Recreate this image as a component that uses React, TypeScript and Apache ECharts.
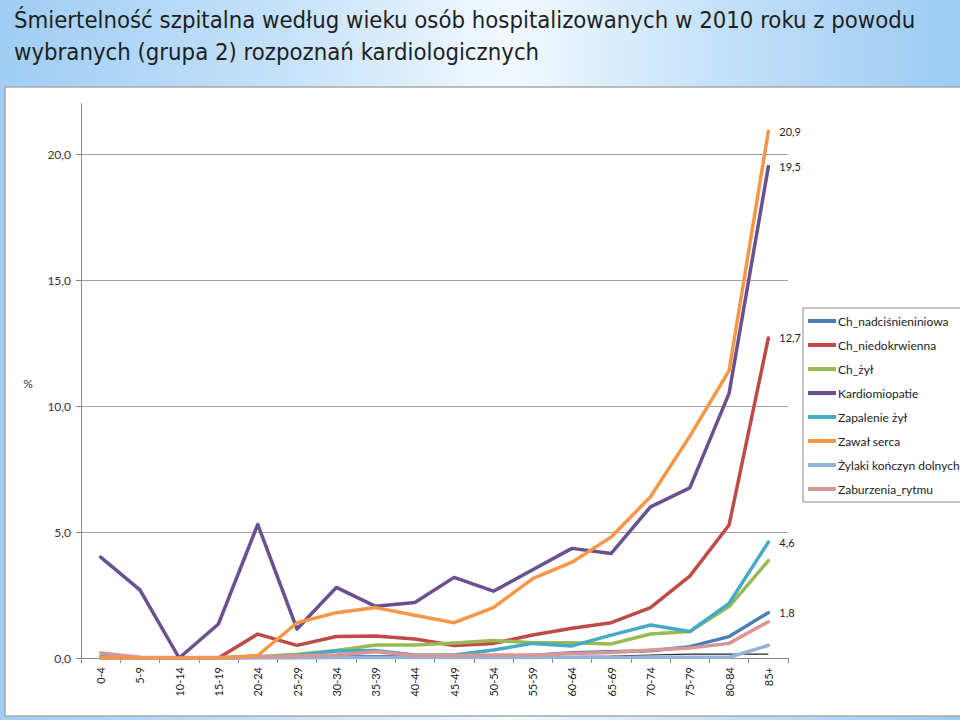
import React, { useEffect, useRef } from "react";
import * as echarts from "echarts";

const categories = ["0-4", "5-9", "10-14", "15-19", "20-24", "25-29", "30-34", "35-39", "40-44", "45-49", "50-54", "55-59", "60-64", "65-69", "70-74", "75-79", "80-84", "85+"];

const chNadcisnieniowa = [0.02, 0, 0, 0, 0.03, 0.03, 0.05, 0.05, 0.05, 0.06, 0.08, 0.1, 0.21, 0.25, 0.29, 0.45, 0.85, 1.8];
const chNiedokrwienna = [0, 0, 0, 0, 0.95, 0.5, 0.85, 0.87, 0.75, 0.5, 0.58, 0.91, 1.18, 1.4, 2.0, 3.25, 5.28, 12.7];
const chZyl = [0, 0, 0, 0, 0.05, 0.15, 0.3, 0.52, 0.52, 0.6, 0.69, 0.61, 0.61, 0.56, 0.95, 1.05, 2.04, 3.86];
const kardiomiopatie = [4.0, 2.7, 0, 1.35, 5.3, 1.15, 2.8, 2.05, 2.2, 3.2, 2.65, 3.5, 4.35, 4.15, 6.0, 6.75, 10.5, 19.5];
const zapalenieZyl = [0.05, 0, 0, 0, 0.02, 0.1, 0.28, 0.3, 0.12, 0.12, 0.32, 0.58, 0.48, 0.91, 1.31, 1.05, 2.17, 4.6];
const zawalSerca = [0, 0, 0, 0, 0.1, 1.4, 1.8, 2.0, 1.7, 1.4, 2.0, 3.15, 3.8, 4.8, 6.4, 8.8, 11.4, 20.9];
const zylaki = [0, 0, 0, 0, 0, 0, 0.02, 0.02, 0.02, 0.02, 0.02, 0.02, 0.03, 0.03, 0.03, 0.03, 0.03, 0.5];
const zaburzeniaRytmu = [0.2, 0.03, 0.02, 0.02, 0.05, 0.08, 0.12, 0.25, 0.1, 0.1, 0.12, 0.12, 0.18, 0.22, 0.32, 0.4, 0.58, 1.44];
const bazowa = [0, 0, 0, 0, 0.01, 0.01, 0.02, 0.02, 0.03, 0.03, 0.04, 0.05, 0.06, 0.08, 0.12, 0.15, 0.15, 0.15];

const seriesNames = ["Ch_nadciśnieniniowa", "Ch_niedokrwienna", "Ch_żył", "Kardiomiopatie", "Zapalenie żył", "Zawał serca", "Żylaki kończyn dolnych", "Zaburzenia_rytmu"];
const seriesValues = [chNadcisnieniowa, chNiedokrwienna, chZyl, kardiomiopatie, zapalenieZyl, zawalSerca, zylaki, zaburzeniaRytmu];
const seriesColors = ["#4a7ebb", "#be4b48", "#98b954", "#6a5091", "#46aac5", "#f79646", "#95b3d7", "#d99694"];
const endLabelled = [true, true, false, true, true, true, false, false];

const yTicks = [0, 5, 10, 15, 20];

const titleLines = [
  "Śmiertelność szpitalna według wieku osób hospitalizowanych w 2010 roku z powodu",
  "wybranych (grupa 2) rozpoznań kardiologicznych",
];

const fmt = (v: number) => v.toFixed(1).replace(".", ",");
const labelFont = "Lato, 'Open Sans', sans-serif";

export default function App() {
  const ref = useRef<HTMLDivElement>(null);
  useEffect(() => {
    document.body.style.margin = "0";
    const chart = echarts.init(ref.current!, null, { renderer: "svg" });
    const series: any[] = seriesNames.map((name, si) => ({
      name,
      type: "line",
      showSymbol: false,
      symbol: "none",
      z: 3 + (si === 3 || si === 5 ? 1 : 0),
      lineStyle: { width: 3.5, color: seriesColors[si], cap: "round", join: "round" },
      itemStyle: { color: seriesColors[si] },
      endLabel: {
        show: endLabelled[si],
        distance: 11,
        formatter: (p: any) => fmt(p.value as number),
        color: "#222",
        fontSize: 11,
        fontFamily: labelFont,
      },
      data: seriesValues[si],
    }));
    series.push({
      name: "bazowa",
      type: "line",
      showSymbol: false,
      symbol: "none",
      z: 2,
      lineStyle: { width: 1.2, color: "#222" },
      data: bazowa,
    });

    chart.setOption({
      animation: false,
      backgroundColor: {
        type: "linear",
        x: 0,
        y: 0,
        x2: 1,
        y2: 0,
        colorStops: [
          { offset: 0, color: "#9fcdf4" },
          { offset: 0.3, color: "#c6e2fa" },
          { offset: 0.53, color: "#f2f9ff" },
          { offset: 0.75, color: "#c4e1f9" },
          { offset: 1, color: "#9ccbf3" },
        ],
      },
      graphic: [
        {
          type: "rect",
          z: -10,
          shape: { x: 5, y: 87, width: 960, height: 629 },
          style: { fill: "#ffffff", stroke: "#a8a8a8", lineWidth: 1.5 },
        },
        {
          type: "text",
          x: 14,
          y: 4,
          style: {
            text: titleLines.join("\n"),
            font: "23.7px 'DejaVu Sans Condensed', 'DejaVu Sans', sans-serif",
            fill: "#1e1e1e",
            lineHeight: 32,
          },
        },
        {
          type: "text",
          x: 28,
          y: 383,
          style: {
            text: "%",
            font: "12px " + labelFont,
            fill: "#333",
            align: "center",
            verticalAlign: "middle",
          },
        },
      ],
      legend: {
        data: seriesNames,
        orient: "vertical",
        left: 803,
        top: 308,
        z: 1,
        icon: "rect",
        itemWidth: 28,
        itemHeight: 4,
        itemGap: 10,
        padding: [6, 12, 6, 5],
        borderColor: "#8a8a8a",
        borderWidth: 1,
        backgroundColor: "#fff",
        textStyle: { fontSize: 12, color: "#222", fontFamily: labelFont, lineHeight: 14, padding: [0, 0, 0, -3] },
      },
      grid: { left: 81, right: 172, top: 103.6, bottom: 62, containLabel: false },
      xAxis: {
        type: "category",
        data: categories,
        boundaryGap: true,
        axisLine: { lineStyle: { color: "#868686", width: 1 } },
        axisTick: { show: true, length: 5, lineStyle: { color: "#868686" } },
        axisLabel: {
          rotate: 90,
          interval: 0,
          margin: 9,
          fontSize: 11,
          color: "#222",
          fontFamily: labelFont,
        },
      },
      yAxis: {
        type: "value",
        min: 0,
        max: 22,
        interval: 5,
        axisLine: { show: true, lineStyle: { color: "#868686", width: 1 } },
        axisTick: { show: true, length: 5, lineStyle: { color: "#868686" }, customValues: yTicks },
        axisLabel: {
          customValues: yTicks,
          formatter: (v: number) => fmt(v),
          fontSize: 12,
          color: "#333",
          fontFamily: labelFont,
          margin: 10,
        },
        splitLine: { show: true, lineStyle: { color: "#a0a0a0", width: 1 } },
      },
      series,
    });
    return () => chart.dispose();
  }, []);
  return <div ref={ref} style={{ width: 960, height: 720 }} />;
}
